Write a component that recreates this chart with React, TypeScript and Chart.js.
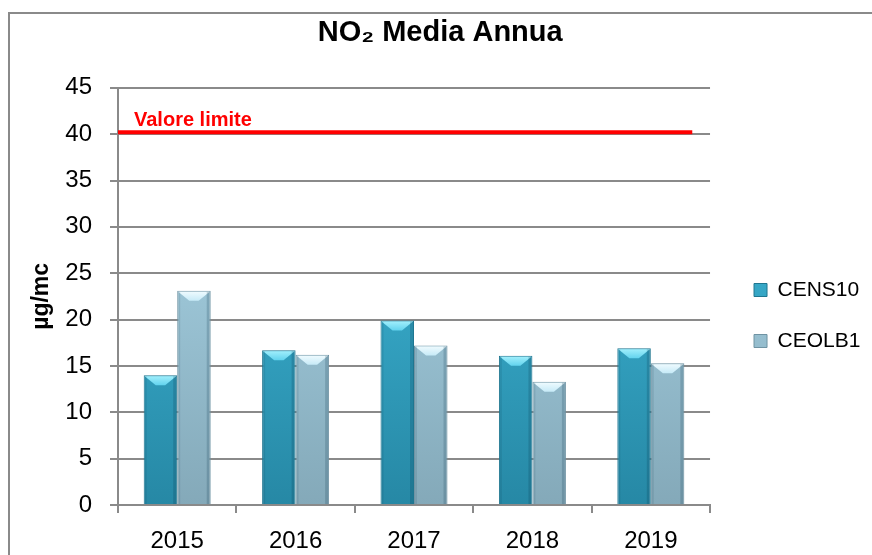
import React, { useEffect, useRef } from 'react';
import { Chart, registerables } from 'chart.js';

Chart.register(...registerables);

// ---- data ----
const categories = ['2015', '2016', '2017', '2018', '2019'];
const seriesNames = ['CENS10', 'CEOLB1'];
const cens10 = [14.0, 16.7, 19.9, 16.1, 16.9];
const ceolb1 = [23.1, 16.2, 17.2, 13.3, 15.3];
const limitValue = 40;
const limitLabel = 'Valore limite';
const titleText = 'NO₂ Media Annua';
const yAxisTitle = 'µg/mc';
const yMin = 0;
const yMax = 45;
const yStep = 5;

// ---- styles ----
const FONT = "'Liberation Sans', Arial, sans-serif";
const GRID = '#8a8a8a';
const barTop = ['#45c3e4', '#b0ddef'];
const barBottom = ['#2688a5', '#84a9b9'];
const barBorder = ['#1f7690', '#6f93a3'];
const capTop = ['#a6f1fd', '#f2fcff'];
const capBottom = ['#62d3ee', '#c6eaf7'];

function vGrad(i: number) {
  return (c: any) => {
    const chart = c.chart;
    const area = chart.chartArea;
    if (!area) return barTop[i];
    const g = chart.ctx.createLinearGradient(0, area.top, 0, area.bottom);
    g.addColorStop(0, barTop[i]);
    g.addColorStop(1, barBottom[i]);
    return g;
  };
}

const bevelPlugin = {
  id: 'bevel',
  afterDatasetsDraw(chart: any) {
    const ctx = chart.ctx;
    chart.data.datasets.forEach((_ds: any, i: number) => {
      const meta = chart.getDatasetMeta(i);
      meta.data.forEach((el: any) => {
        const { x, y, base, width } = el.getProps(['x', 'y', 'base', 'width'], true);
        const l = x - width / 2;
        const r = x + width / 2;
        const depth = Math.min(10, (base - y) / 3);
        const inset = width * 0.36;
        ctx.save();
        ctx.beginPath();
        ctx.moveTo(l + 1, y + 1);
        ctx.lineTo(r - 1, y + 1);
        ctx.lineTo(r - inset, y + depth);
        ctx.lineTo(l + inset, y + depth);
        ctx.closePath();
        const g = ctx.createLinearGradient(0, y, 0, y + depth);
        g.addColorStop(0, capTop[i]);
        g.addColorStop(1, capBottom[i]);
        ctx.fillStyle = g;
        ctx.fill();
        ctx.fillStyle = 'rgba(0,40,60,0.18)';
        ctx.fillRect(r - 4, y + 1, 3, base - y - 1);
        ctx.fillStyle = 'rgba(0,40,60,0.10)';
        ctx.fillRect(l + 1, y + 1, 2, base - y - 1);
        ctx.restore();
      });
    });
  },
};

const limitPlugin = {
  id: 'limitLine',
  afterDatasetsDraw(chart: any) {
    const { ctx, chartArea, scales } = chart;
    const yPix = scales.y.getPixelForValue(limitValue) - 2;
    const x0 = chartArea.left;
    const x1 = chartArea.right - (chartArea.right - chartArea.left) * 0.03;
    ctx.save();
    ctx.strokeStyle = '#ff0000';
    ctx.lineWidth = 4;
    ctx.beginPath();
    ctx.moveTo(x0, yPix);
    ctx.lineTo(x1, yPix);
    ctx.stroke();
    ctx.font = `bold 20px ${FONT}`;
    ctx.fillStyle = '#ff0000';
    ctx.textBaseline = 'alphabetic';
    ctx.textAlign = 'left';
    ctx.fillText(limitLabel, x0 + 16, yPix - 6);
    ctx.restore();
  },
};

export default function App() {
  const ref = useRef<HTMLCanvasElement | null>(null);

  useEffect(() => {
    if (!ref.current) return;
    const chart = new Chart(ref.current, {
      type: 'bar',
      data: {
        labels: categories,
        datasets: [
          {
            label: seriesNames[0],
            data: cens10,
            backgroundColor: vGrad(0),
            borderColor: barBorder[0],
            borderWidth: 1,
            categoryPercentage: 0.566,
            barPercentage: 1.0,
          },
          {
            label: seriesNames[1],
            data: ceolb1,
            backgroundColor: vGrad(1),
            borderColor: barBorder[1],
            borderWidth: 1,
            categoryPercentage: 0.566,
            barPercentage: 1.0,
          },
        ],
      },
      options: {
        responsive: false,
        animation: false,
        layout: { padding: { left: 0, right: 1.6, top: 0, bottom: 0 } },
        plugins: {
          title: {
            display: true,
            text: titleText,
            color: '#000',
            font: { family: FONT, size: 29, weight: 'bold' },
            padding: { top: 1.5, bottom: 37.5 },
          },
          legend: {
            position: 'right',
            align: 'center',
            maxWidth: 300,
            title: { display: true, text: ' ', font: { size: 12 }, padding: 23.8 },
            labels: {
              boxWidth: 13,
              boxHeight: 13,
              padding: 30,
              color: '#000',
              font: { family: FONT, size: 21 },
            },
          },
          tooltip: { enabled: false },
        },
        scales: {
          x: {
            grid: {
              display: true,
              drawOnChartArea: false,
              drawTicks: true,
              tickLength: 8,
              color: GRID,
              lineWidth: 2,
              offset: true,
            },
            border: { display: true, color: GRID, width: 2 },
            ticks: { color: '#000', padding: 14, maxRotation: 0, font: { family: FONT, size: 24 } },
            afterFit: (s: any) => {
              s.height = 50;
            },
          },
          y: {
            min: yMin,
            max: yMax,
            ticks: { stepSize: yStep, color: '#000', padding: 18, font: { family: FONT, size: 24 } },
            grid: { color: GRID, lineWidth: 2, tickLength: 8 },
            border: { display: true, color: GRID, width: 2 },
            title: {
              display: true,
              text: yAxisTitle,
              color: '#000',
              font: { family: FONT, size: 23, weight: 'bold' },
              padding: { top: 18, bottom: 0 },
            },
            afterFit: (s: any) => {
              s.width = 108;
            },
          },
          y2: {
            position: 'right',
            display: true,
            grid: { display: false },
            ticks: { display: false },
            border: { display: false },
            afterFit: (s: any) => {
              s.width = 14;
            },
          },
        },
      } as any,
      plugins: [bevelPlugin, limitPlugin],
    });
    return () => chart.destroy();
  }, []);

  return (
    <div
      style={{
        position: 'fixed',
        left: 8,
        top: 12,
        width: 864,
        height: 543,
        boxSizing: 'border-box',
        borderTop: '2px solid #8a8a8a',
        borderLeft: '2px solid #8a8a8a',
        background: '#fff',
      }}
    >
      <canvas ref={ref} width={862} height={541} style={{ display: 'block' }} />
    </div>
  );
}
